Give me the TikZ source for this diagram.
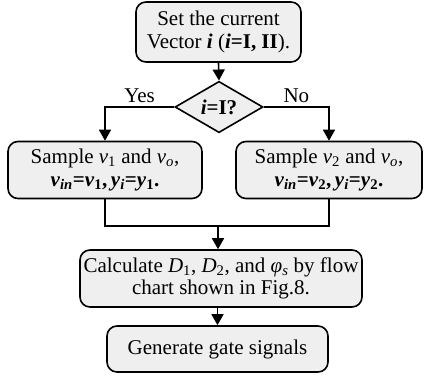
\documentclass[tikz,border=0pt]{standalone}
\usepackage{fontspec}
\setmainfont{Liberation Serif}
\usetikzlibrary{shapes.geometric,arrows.meta}
\definecolor{boxgray}{RGB}{239,239,239}
\newcommand{\bi}[1]{\textbf{\textit{#1}}}
\tikzset{
  procbox/.style={draw,line width=1.6pt,rounded corners=10pt,fill=boxgray,
    align=center,inner sep=2pt,font=\fontsize{21}{22.5}\selectfont},
  decbox/.style={draw,line width=1.6pt,shape=diamond,fill=boxgray,inner sep=0pt,
    minimum width=88pt,minimum height=42pt,font=\fontsize{21}{22.5}\selectfont},
  flow/.style={line width=1.6pt,-{Triangle[length=11pt,width=12pt]}},
  joint/.style={line width=1.6pt},
  branchlbl/.style={pos=.25,anchor=south,font=\fontsize{21}{22.5}\selectfont}
}
\begin{document}
\begin{tikzpicture}[x=1pt,y=-1pt]
  \useasboundingbox (0,0) rectangle (424,378);
  \node[procbox,minimum width=165pt,minimum height=60pt] (set) at (218.5,32)
    {Set the current\\Vector \bi{i} (\bi{i}\textbf{=I, II}).};
  \node[decbox] (isone) at (219,107) {\bi{i}\textbf{=I?}};
  \node[procbox,minimum width=194pt,minimum height=57pt] (sampA) at (105,170)
    {Sample \textit{v}\textsubscript{1} and \textit{v}\textsubscript{\textit{o}},\\
     \bi{v}\textsubscript{\bi{in}}\textbf{=}\bi{v}\textsubscript{\textbf{1}}\textbf{,\,}%
     \bi{y}\textsubscript{\bi{i}}\textbf{=}\bi{y}\textsubscript{\textbf{1}}\textbf{.}};
  \node[procbox,minimum width=186pt,minimum height=57pt] (sampB) at (329,170)
    {Sample \textit{v}\textsubscript{2} and \textit{v}\textsubscript{\textit{o}},\\
     \bi{v}\textsubscript{\bi{in}}\textbf{=}\bi{v}\textsubscript{\textbf{2}}\textbf{,\,}%
     \bi{y}\textsubscript{\bi{i}}\textbf{=}\bi{y}\textsubscript{\textbf{2}}\textbf{.}};
  \node[procbox,minimum width=282pt,minimum height=57pt] (calc) at (221,278.5)
    {Calculate \textit{D}\textsubscript{1}, \textit{D}\textsubscript{2}, and
     \textit{φ}\textsubscript{\textit{s}} by flow\\chart shown in Fig.8.};
  \node[procbox,minimum width=221pt,minimum height=46pt] (gate) at (217.5,349)
    {Generate gate signals};
  \coordinate (merge) at (218,226);
  % decision branches
  \draw[flow] (set.south) -- (isone.north);
  \draw[flow] (isone.west) -| node[branchlbl] {Yes} (sampA.north);
  \draw[flow] (isone.east) -| node[branchlbl] {No} (sampB.north);
  % join and the last two steps
  \draw[joint] (sampA.south) |- (merge) -| (sampB.south);
  \draw[flow] (merge) -- (merge |- calc.north);
  \draw[flow] (calc.south -| gate.north) -- (gate.north);
\end{tikzpicture}
\end{document}
